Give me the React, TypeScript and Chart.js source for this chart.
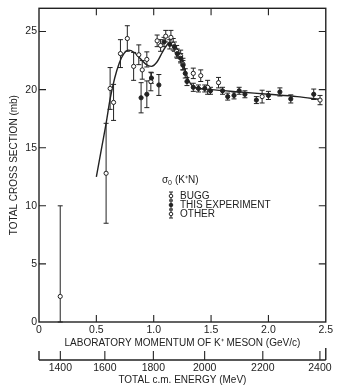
import React, { useEffect, useRef } from 'react';
import { Chart, registerables } from 'chart.js';

Chart.register(...registerables);

// ---------- data ----------
const xTickValues = [0, 0.5, 1.0, 1.5, 2.0, 2.5];
const yTickValues = [0, 5, 10, 15, 20, 25];
const energyLabels = ['1400', '1600', '1800', '2000', '2200', '2400'];
// momentum (GeV/c) under each energy tick, as drawn on the original figure
const energyTickMomentum = [0.186, 0.574, 0.997, 1.444, 1.951, 2.449];

// BUGG (open circles)
const buggP = [0.62, 0.65, 0.71, 0.77, 0.825, 0.87, 0.90, 0.94, 0.975, 1.03, 1.06, 1.105, 1.15, 1.17, 1.20, 1.235, 1.255, 1.345, 1.41, 1.47, 1.565, 1.945, 2.45];
const buggSigma = [20.1, 18.9, 23.1, 24.4, 22.0, 23.0, 21.7, 22.6, 20.7, 24.2, 23.8, 24.6, 24.5, 23.9, 23.3, 22.9, 22.2, 21.4, 21.2, 20.2, 20.6, 19.4, 19.1];
const buggErr = [1.8, 1.55, 1.2, 1.1, 1.2, 0.85, 0.8, 0.65, 0.8, 0.5, 0.5, 0.5, 0.6, 0.5, 0.5, 0.5, 0.5, 0.45, 0.5, 0.6, 0.45, 0.55, 0.4];

// THIS EXPERIMENT (filled circles)
const expP = [0.89, 0.94, 0.98, 1.045, 1.09, 1.14, 1.18, 1.205, 1.235, 1.255, 1.275, 1.29, 1.345, 1.39, 1.445, 1.495, 1.60, 1.645, 1.70, 1.745, 1.795, 1.895, 2.00, 2.10, 2.195, 2.395];
const expSigma = [19.3, 19.6, 21.0, 20.4, 24.1, 23.9, 23.7, 23.1, 22.7, 22.1, 21.4, 20.7, 20.2, 20.1, 20.1, 19.9, 19.9, 19.4, 19.5, 19.9, 19.6, 19.1, 19.5, 19.8, 19.2, 19.6];
const expErr = [1.3, 1.15, 0.45, 0.9, 0.4, 0.4, 0.4, 0.4, 0.4, 0.4, 0.4, 0.35, 0.35, 0.3, 0.3, 0.3, 0.3, 0.3, 0.3, 0.3, 0.3, 0.3, 0.35, 0.35, 0.35, 0.45];

// OTHER (open circles)
const otherP = [0.185, 0.585];
const otherSigma = [2.2, 12.8];
const otherErrLow = [2.2, 4.3];
const otherErrHigh = [7.8, 4.3];

// smooth fitted curve
const curveP = [0.50, 0.55, 0.585, 0.62, 0.66, 0.70, 0.74, 0.78, 0.83, 0.88, 0.93, 0.98, 1.03, 1.08, 1.135, 1.19, 1.235, 1.27, 1.30, 1.34, 1.40, 1.50, 1.75, 2.00, 2.25, 2.45];
const curveSigma = [12.5, 15.2, 17.1, 19.2, 21.0, 22.3, 23.1, 23.4, 23.2, 22.7, 22.2, 22.0, 22.4, 23.3, 24.0, 23.7, 22.9, 21.8, 20.9, 20.3, 20.1, 20.0, 19.8, 19.6, 19.4, 19.15];

// ---------- style ----------
const INK = '#222';
const FONT = '"Liberation Sans", Arial, sans-serif';

const errorBarPlugin = {
  id: 'errorBars',
  beforeDatasetsDraw(chart: any) {
    const { ctx } = chart;
    const xs = chart.scales.x;
    const ys = chart.scales.y;
    ctx.save();
    ctx.strokeStyle = INK;
    ctx.lineWidth = 1;
    chart.data.datasets.forEach((ds: any) => {
      if (!ds.errLow) return;
      ds.data.forEach((pt: any, j: number) => {
        const px = xs.getPixelForValue(pt.x);
        const yl = ys.getPixelForValue(pt.y - ds.errLow[j]);
        const yh = ys.getPixelForValue(pt.y + ds.errHigh[j]);
        ctx.beginPath();
        ctx.moveTo(px, yl);
        ctx.lineTo(px, yh);
        ctx.moveTo(px - 2.5, yl);
        ctx.lineTo(px + 2.5, yl);
        ctx.moveTo(px - 2.5, yh);
        ctx.lineTo(px + 2.5, yh);
        ctx.stroke();
      });
    });
    ctx.restore();
  },
};

const framePlugin = {
  id: 'frame',
  afterDraw(chart: any) {
    const { ctx, chartArea } = chart;
    const xs = chart.scales.x;
    const ys = chart.scales.y;
    const x2 = chart.scales.x2;
    const { left, right, top, bottom } = chartArea;
    ctx.save();
    ctx.strokeStyle = INK;
    ctx.lineWidth = 1.4;
    ctx.strokeRect(left, top, right - left, bottom - top);
    ctx.lineWidth = 1.1;
    ctx.beginPath();
    xTickValues.forEach((v) => {
      if (v === xs.min || v === xs.max) return;
      const px = xs.getPixelForValue(v);
      ctx.moveTo(px, bottom);
      ctx.lineTo(px, bottom - 7);
      ctx.moveTo(px, top);
      ctx.lineTo(px, top + 7);
    });
    yTickValues.forEach((v) => {
      if (v === ys.min || v === ys.max) return;
      const py = ys.getPixelForValue(v);
      ctx.moveTo(left, py);
      ctx.lineTo(left + 7, py);
      ctx.moveTo(right, py);
      ctx.lineTo(right - 7, py);
    });
    ctx.stroke();

    // energy axis
    const ay = x2.top + 11;
    ctx.lineWidth = 1.4;
    ctx.beginPath();
    ctx.moveTo(left, ay);
    ctx.lineTo(right, ay);
    ctx.moveTo(left, ay);
    ctx.lineTo(left, ay - 9);
    ctx.moveTo(right, ay);
    ctx.lineTo(right, ay - 12);
    ctx.stroke();
    ctx.lineWidth = 1.1;
    ctx.beginPath();
    energyTickMomentum.forEach((v) => {
      const px = x2.getPixelForValue(v);
      ctx.moveTo(px, ay);
      ctx.lineTo(px, ay - 9);
    });
    ctx.stroke();
    ctx.restore();
  },
};

const legendPlugin = {
  id: 'paperLegend',
  afterDatasetsDraw(chart: any) {
    const { ctx } = chart;
    ctx.save();
    ctx.fillStyle = INK;
    ctx.strokeStyle = INK;
    ctx.textBaseline = 'middle';
    ctx.textAlign = 'left';
    ctx.font = `10px ${FONT}`;
    ctx.fillText('\u03c3', 162, 180);
    ctx.font = `7px ${FONT}`;
    ctx.fillText('0', 168, 183);
    ctx.font = `10px ${FONT}`;
    ctx.fillText('(K\u207aN)', 175, 180);

    const rows = [
      { label: 'BUGG', y: 196, filled: false },
      { label: 'THIS EXPERIMENT', y: 205, filled: true },
      { label: 'OTHER', y: 214, filled: false },
    ];
    const sx = 171;
    rows.forEach((r) => {
      ctx.lineWidth = 1;
      ctx.beginPath();
      ctx.moveTo(sx, r.y - 4);
      ctx.lineTo(sx, r.y + 4);
      ctx.moveTo(sx - 2, r.y - 4);
      ctx.lineTo(sx + 2, r.y - 4);
      ctx.moveTo(sx - 2, r.y + 4);
      ctx.lineTo(sx + 2, r.y + 4);
      ctx.stroke();
      ctx.beginPath();
      ctx.arc(sx, r.y, 1.8, 0, Math.PI * 2);
      ctx.fillStyle = r.filled ? INK : '#fff';
      ctx.fill();
      ctx.stroke();
      ctx.fillStyle = INK;
      ctx.fillText(r.label, 180, r.y);
    });
    ctx.restore();
  },
};

const toPoints = (xs: number[], ys: number[]) => xs.map((x, i) => ({ x, y: ys[i] }));

export default function App() {
  const canvasRef = useRef<HTMLCanvasElement | null>(null);

  useEffect(() => {
    document.body.style.margin = '0';
    const canvas = canvasRef.current;
    if (!canvas) return;

    const tickFont = { family: FONT, size: 10.5 };
    const titleFont = { family: FONT, size: 10 };

    const chart = new Chart(canvas, {
      type: 'scatter',
      data: {
        datasets: [
          {
            label: 'THIS EXPERIMENT',
            data: toPoints(expP, expSigma),
            errLow: expErr,
            errHigh: expErr,
            pointRadius: 2.1,
            pointBackgroundColor: INK,
            pointBorderColor: INK,
            pointBorderWidth: 1,
          } as any,
          {
            label: 'BUGG',
            data: toPoints(buggP, buggSigma),
            errLow: buggErr,
            errHigh: buggErr,
            pointRadius: 2.1,
            pointBackgroundColor: '#fff',
            pointBorderColor: INK,
            pointBorderWidth: 1,
          } as any,
          {
            label: 'OTHER',
            data: toPoints(otherP, otherSigma),
            errLow: otherErrLow,
            errHigh: otherErrHigh,
            pointRadius: 2.1,
            pointBackgroundColor: '#fff',
            pointBorderColor: INK,
            pointBorderWidth: 1,
          } as any,
          {
            type: 'line',
            label: 'fit',
            data: toPoints(curveP, curveSigma),
            borderColor: INK,
            borderWidth: 1.4,
            pointRadius: 0,
            fill: false,
            cubicInterpolationMode: 'monotone',
          } as any,
        ],
      },
      options: {
        animation: false,
        responsive: true,
        maintainAspectRatio: false,
        layout: { padding: { left: 0, right: 10, top: 7, bottom: 0 } },
        plugins: {
          legend: { display: false },
          tooltip: { enabled: false },
        },
        scales: {
          x: {
            type: 'linear',
            position: 'bottom',
            weight: 0,
            min: 0,
            max: 2.5,
            grid: { display: false, drawTicks: false },
            border: { display: false },
            afterBuildTicks: (s: any) => {
              s.ticks = xTickValues.map((v) => ({ value: v }));
            },
            afterFit: (s: any) => {
              s.height = 27;
            },
            ticks: {
              autoSkip: false,
              maxRotation: 0,
              padding: 2,
              color: INK,
              font: tickFont,
              callback: (v: any) => (Number(v) === 0 ? '0' : Number(v).toFixed(1)),
            },
            title: {
              display: true,
              text: 'LABORATORY MOMENTUM OF K\u207a MESON (GeV/c)',
              color: INK,
              font: titleFont,
              padding: 0,
            },
          },
          x2: {
            type: 'linear',
            axis: 'x',
            position: 'bottom',
            weight: 1,
            min: 0,
            max: 2.5,
            grid: { display: false, drawTicks: false },
            border: { display: false },
            afterBuildTicks: (s: any) => {
              s.ticks = energyTickMomentum.map((v) => ({ value: v }));
            },
            afterFit: (s: any) => {
              s.height = 37;
            },
            ticks: {
              autoSkip: false,
              maxRotation: 0,
              padding: 13,
              color: INK,
              font: tickFont,
              callback: (_v: any, i: number) => energyLabels[i],
            },
            title: {
              display: true,
              text: 'TOTAL c.m. ENERGY (MeV)',
              color: INK,
              font: titleFont,
              padding: 0,
            },
          },
          y: {
            type: 'linear',
            position: 'left',
            min: 0,
            max: 27,
            grid: { display: false, drawTicks: false },
            border: { display: false },
            afterBuildTicks: (s: any) => {
              s.ticks = yTickValues.map((v) => ({ value: v }));
            },
            afterFit: (s: any) => {
              s.width = 39;
            },
            ticks: {
              padding: 2,
              color: INK,
              font: tickFont,
            },
            title: {
              display: true,
              text: 'TOTAL CROSS SECTION (mb)',
              color: INK,
              font: titleFont,
              padding: { top: 8, bottom: 0 },
            },
          },
        },
      },
      plugins: [errorBarPlugin, legendPlugin, framePlugin],
    } as any);

    return () => chart.destroy();
  }, []);

  return (
    <div style={{ position: 'relative', width: 345, height: 386 }}>
      <canvas ref={canvasRef} />
    </div>
  );
}
